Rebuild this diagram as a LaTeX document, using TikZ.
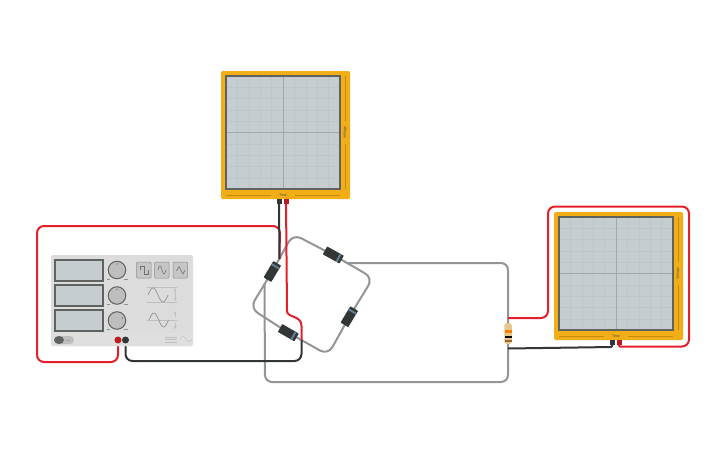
\documentclass[tikz,border=0pt]{standalone}
\usepackage{fontspec}
\setmainfont{Liberation Sans}
\usetikzlibrary{calc,backgrounds}
\definecolor{scopeorange}{HTML}{F2AE17}
\definecolor{screengray}{HTML}{C5CDD0}
\definecolor{framegray}{HTML}{5F6360}
\definecolor{gridgray}{HTML}{BDC6C8}
\definecolor{axisgray}{HTML}{A0A9AB}
\definecolor{panelgray}{HTML}{DCDCDC}
\definecolor{knobgray}{HTML}{BEBEBE}
\definecolor{wirered}{HTML}{E3202A}
\definecolor{wireblack}{HTML}{333636}
\definecolor{wiregray}{HTML}{929596}
\definecolor{bandgray}{HTML}{5F7F90}
\definecolor{restan}{HTML}{E6C88C}
\tikzset{
  redwire/.style={draw=wirered,line width=2pt,rounded corners=7pt},
  blackwire/.style={draw=wireblack,line width=2pt,rounded corners=7pt},
  graywire/.style={draw=wiregray,line width=2pt,rounded corners=7pt},
  scopebody/.style={fill=scopeorange,rounded corners=1.5pt},
  screenbox/.style={draw=framegray,line width=1.6pt,fill=screengray},
  gridline/.style={draw=gridgray,line width=.4pt},
  axisline/.style={draw=axisgray,line width=.6pt},
  scaleline/.style={draw=black!20!scopeorange,line width=.25pt},
  tinylabel/.style={inner sep=0pt,text=black!70,font=\fontsize{3.6}{4}\selectfont},
  diodebody/.style={fill=wireblack,minimum width=19pt,minimum height=9pt,inner sep=0pt,rounded corners=.5pt},
  diodeband/.style={fill=bandgray,minimum width=2pt,minimum height=9pt,inner sep=0pt},
  pinblack/.style={fill=wireblack,minimum size=5pt,inner sep=0pt},
  pinred/.style={fill=wirered!80!black,minimum size=5pt,inner sep=0pt},
  displaybox/.style={draw=framegray,line width=1.4pt,fill=screengray},
  knob/.style={circle,draw=framegray,line width=1pt,fill=knobgray,minimum size=17.5pt,inner sep=0pt},
  wavebutton/.style={draw=gray!90,line width=.5pt,fill=gray!45,rounded corners=1pt},
  waveline/.style={draw=gray!85,line width=.7pt},
  faintline/.style={draw=gray!50,line width=.4pt},
}
\newcommand{\oscope}[3]{
  \begin{scope}[shift={(#2,#3)}]
    \fill[scopebody] (0,0) rectangle (129,128);
    \node[pinblack] (#1b) at (58,130) {};
    \node[pinred] (#1r) at (65,130) {};
    \fill[screengray] (5,5) rectangle (119,118);
    \foreach \i in {1,...,9} {
      \draw[gridline] ({5+\i*11.4},5) -- ({5+\i*11.4},118);
      \draw[gridline] (5,{5+\i*11.3}) -- (119,{5+\i*11.3});
    }
    \draw[axisline] (62,5) -- (62,118);
    \draw[axisline] (5,61.5) -- (119,61.5);
    \draw[screenbox,fill=none] (5,5) rectangle (119,118);
    \node[tinylabel] (#1t) at (62,124) {Time};
    \node[tinylabel,rotate=90] (#1v) at (124,61.5) {Voltage};
    \draw[scaleline] (5,124) -- (50,124);
    \draw[scaleline] (74,124) -- (119,124);
    \draw[scaleline] (124,5) -- (124,50);
    \draw[scaleline] (124,73) -- (124,118);
  \end{scope}
}
\newcommand{\diode}[4]{
  \node[diodebody,rotate=#4] (#1) at (#2,#3) {};
  \node[diodeband,rotate=#4] (#1b) at ($(#1.center)!.62!(#1.east)$) {};
}
\begin{document}
\begin{tikzpicture}[x=1pt,y=-1pt]
  \useasboundingbox (0,0) rectangle (725,453);

  \oscope{sa}{221}{71}
  \oscope{sb}{554}{212}

  % function generator
  \fill[panelgray,rounded corners=1.5pt] (51,255) rectangle (193,346);
  \fill[gray!25,rounded corners=1.5pt] (51,333) rectangle (193,346);
  \foreach \y in {260,285,310}
    \draw[displaybox] (55,\y) rectangle (103,\y+21);
  \node[knob] (ka) at (117,270) {};
  \node[knob] (kb) at (117,295.5) {};
  \node[knob] (kc) at (117,320.5) {};
  \fill[framegray] (117,264) circle (.7pt) (117,289.5) circle (.7pt) (122.5,318) circle (.7pt);
  \foreach \y in {279,304,329} {
    \draw[framegray!70,line width=.5pt] (107,\y) -- (110,\y);
    \draw[framegray!70,line width=.5pt] (124,\y) -- (128,\y);
  }
  \foreach \x in {136.5,154.5,173}
    \draw[wavebutton] (\x,262) rectangle +(14.5,16);
  \draw[wireblack!70,line width=.6pt] (140,270) -- (140,266) -- (144,266) -- (144,274) -- (148,274) -- (148,270);
  \draw[wireblack!70,line width=.6pt,domain=0:360,samples=30] plot ({158+\x/45},{270-4*sin(\x)});
  \draw[wireblack!70,line width=.6pt] (176.5,271) -- (179,266.5) -- (183,274) -- (185,270);
  % wave pictures
  \draw[faintline] (147,287) -- (177,287);
  \draw[faintline] (147,302) -- (177,302);
  \draw[waveline,domain=0:360,samples=40] plot ({148+\x/18},{295-7*sin(\x)});
  \draw[faintline,<->,>=stealth] (175,288) -- (175,301);
  \draw[faintline] (147,320) -- (177,320);
  \draw[waveline,domain=0:360,samples=40] plot ({149+\x/18.5},{320-7*sin(\x)});
  \draw[faintline,->,>=stealth] (175,317) -- (175,311);
  \draw[faintline,->,>=stealth] (175,323) -- (175,329);
  % switch and marks
  \fill[knobgray,rounded corners=4pt] (54,336) rectangle (74,344);
  \fill[framegray] (59,340) ellipse (5pt and 4pt);
  \draw[gray!70,line width=.8pt] (66,340) -- (70,340);
  \draw[faintline] (165,337) -- (177,337) (165,339.5) -- (177,339.5) (165,342) -- (177,342);
  \draw[faintline,domain=0:360,samples=20] plot ({180+\x/30},{339-2.5*sin(\x)});
  \node[circle,fill=wirered!85!black,minimum size=7pt,inner sep=0pt] (genp) at (118,340) {};
  \node[circle,fill=wireblack,minimum size=7pt,inner sep=0pt] (genn) at (125.5,340) {};

  % bridge
  \diode{dl}{272.3}{271.5}{59}
  \diode{dt}{333.3}{255}{-29}
  \diode{dr}{349.3}{316.7}{59}
  \diode{db}{288.3}{332.7}{-30}
  \coordinate (ct) at (293,234);
  \coordinate (cr) at (373,278);
  \coordinate (cb) at (328,355);
  \coordinate (cl) at (250,308);
  \coordinate (jr) at (346,263);
  \coordinate (jl) at (264.5,283);
  \coordinate (jb) at (301.5,340);
  \coordinate (jt) at (279.5,259);

  % resistor
  \node[fill=restan,rounded corners=2.5pt,minimum width=7.5pt,minimum height=21pt,inner sep=0pt] (res) at (508,333.5) {};
  \fill[orange!90!brown] (504.5,330) rectangle (511.5,332.5);
  \fill[black] (504.5,335.5) rectangle (511.5,338);
  \fill[brown!80!black] (504.5,339.5) rectangle (511.5,341.5);
  \coordinate (rt) at (508,318);
  \coordinate (rb) at (508,348.5);

  \begin{pgfonlayer}{background}
    \foreach \from/\via/\to in {dl/ct/dt,dt/cr/dr,dr/cb/db,db/cl/dl}
      \draw[graywire,rounded corners=9pt] (\from.center) -- (\via) -- (\to.center);
    \draw[graywire] (jr) -- (508,263) -- (res.center);
    \draw[graywire] (res.center) -- (508,382) -- (265,382) -- (jl);
    \draw[redwire] (genp) -- (118,362) -- (37,362) -- (37,226) -- (280,226) -- (jt);
    \draw[blackwire] (genn) -- (125.5,361) -- (301.5,361) -- (jb);
    \draw[blackwire] (sab) -- (jt);
    \draw[redwire,rounded corners=0pt] (sar) -- (287,311) .. controls (287,318) and (301.5,315) .. (301.5,326) -- (jb);
    \draw[redwire] (sbr) [rounded corners=1pt] -- (619,346.5) [rounded corners=7pt] -- (689,346.5) -- (689,206.5) -- (548,206.5) -- (548,318) -- (rt);
    \draw[blackwire,rounded corners=1pt] (sbb) -- (612,347) -- (rb);
  \end{pgfonlayer}
\end{tikzpicture}
\end{document}
